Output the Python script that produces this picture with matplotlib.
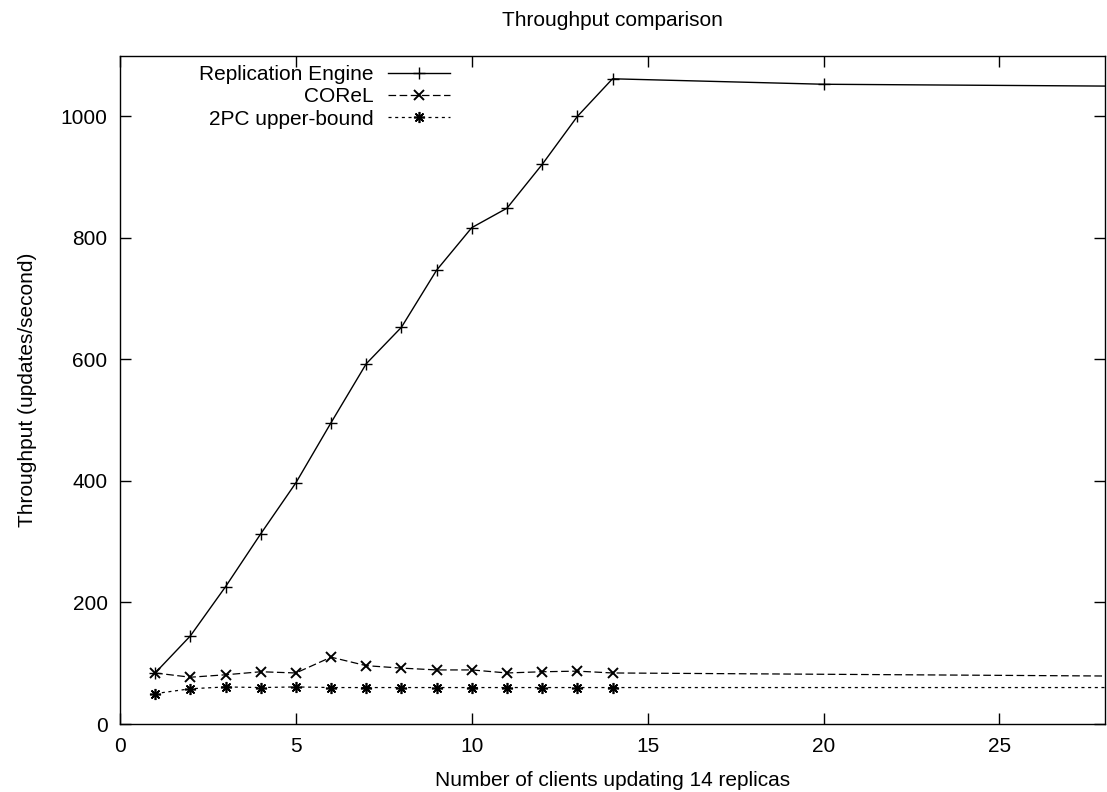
import matplotlib
matplotlib.use("Agg")
import matplotlib.pyplot as plt

plt.rcParams['font.family'] = ['Liberation Sans', 'DejaVu Sans']
plt.rcParams['lines.scale_dashes'] = False

# ---- data ----
re_x = [1, 2, 3, 4, 5, 6, 7, 8, 9, 10, 11, 12, 13, 14, 20, 28]
re_y = [84, 145, 226, 313, 397, 496, 593, 653, 747, 817, 849, 921, 1000, 1062, 1053, 1050]

corel_x = [1, 2, 3, 4, 5, 6, 7, 8, 9, 10, 11, 12, 13, 14, 28]
corel_y = [84, 77, 81, 86, 84, 110, 96, 92, 89, 89, 84, 86, 87, 84, 79]

tpc_x = [1, 2, 3, 4, 5, 6, 7, 8, 9, 10, 11, 12, 13, 14, 28]
tpc_y = [50, 58, 61, 60, 61, 60, 60, 60, 60, 60, 60, 60, 60, 60, 60]

labels = ["Replication Engine", "COReL", "2PC upper-bound"]
x_ticks = [0, 5, 10, 15, 20, 25]
y_ticks = [0, 200, 400, 600, 800, 1000]

title = "Throughput comparison"
xlabel = "Number of clients updating 14 replicas"
ylabel = "Throughput (updates/second)"

FS = 15

fig = plt.figure(figsize=(11.07, 7.92), dpi=100)
W, H = 1107, 792
L, R, T, B = 120, 1105, 55.7, 724
ax = fig.add_axes([L / W, 1 - B / H, (R - L) / W, (B - T) / H])

ax.plot(re_x, re_y, color='black', lw=1.0, ls='-', marker='+', ms=8,
        mew=1.0, markevery=list(range(15)), label=labels[0])
ax.plot(corel_x, corel_y, color='black', lw=0.9, dashes=(5.5, 2.5),
        marker='x', ms=7, mew=1.4, markevery=list(range(14)), label=labels[1])
ax.plot(tpc_x, tpc_y, color='black', lw=0.9, dashes=(2.2, 2.6),
        marker=(8, 2, 0), ms=8, mew=1.2, markevery=list(range(14)), label=labels[2])

ax.set_xlim(0, 28)
ax.set_ylim(0, 1100)
ax.set_xticks(x_ticks)
ax.set_yticks(y_ticks)
ax.tick_params(direction='in', length=8, width=1.0, top=True, right=True,
               labelsize=FS, pad=9, colors='black')
for s in ax.spines.values():
    s.set_linewidth(1.0)
    s.set_color('black')

ax.set_xlabel(xlabel, fontsize=FS)
ax.set_ylabel(ylabel, fontsize=FS)
ax.xaxis.set_label_coords(0.5, (B - 780) / (B - T))
ax.xaxis.label.set_va('center')
ax.yaxis.set_label_coords((27 - L) / (R - L), 0.5)
ax.yaxis.label.set_va('center')

fig.text((L + R) / 2 / W, 1 - 20 / H, title, ha='center', va='center', fontsize=FS)

leg = ax.legend(loc='upper right', bbox_to_anchor=((450 - L) / (R - L), 1 - (65.0 - T) / (B - T)),
                frameon=False, markerfirst=False, fontsize=FS, borderpad=0,
                borderaxespad=0, handlelength=3.0, handletextpad=0.65,
                labelspacing=0.16, numpoints=1)

fig.savefig("out.png", dpi=100)
